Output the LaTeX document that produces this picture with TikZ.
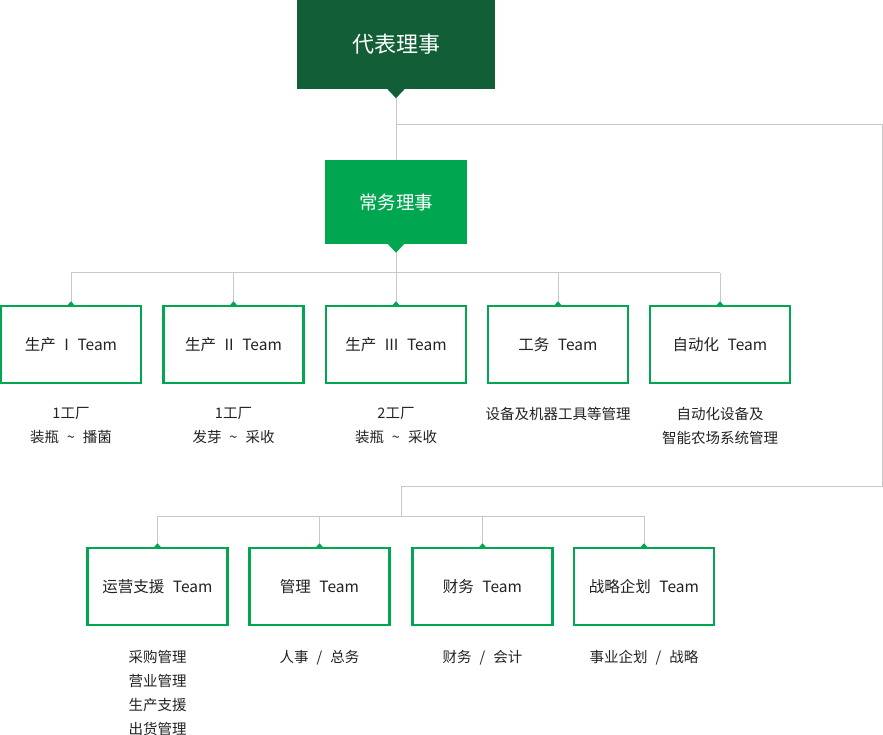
\documentclass[tikz,border=0pt]{standalone}
\usepackage{fontspec}
\setmainfont{Noto Sans CJK SC}
\definecolor{dkgreen}{HTML}{115E37}
\definecolor{mygreen}{HTML}{00A650}
\definecolor{lgray}{HTML}{C8C8C8}
\definecolor{txt}{HTML}{222222}
\newcommand{\gapsp}{\hspace{0.55em}}
\begin{document}
\begin{tikzpicture}[x=1pt,y=-1pt,
  topbox/.style={fill=dkgreen,text=white,minimum width=198pt,minimum height=89pt,inner sep=0pt,font=\fontsize{22}{26}\selectfont},
  midbox/.style={fill=mygreen,text=white,minimum width=142pt,minimum height=84pt,inner sep=0pt,font=\fontsize{18.5}{22}\selectfont},
  teambox/.style={draw=mygreen,line width=2.5pt,fill=white,text=txt,minimum width=140pt,minimum height=77pt,inner sep=0pt,font=\fontsize{15.5}{18}\selectfont},
  desc/.style={text=txt,align=center,inner sep=0pt,font=\fontsize{14.5}{24}\selectfont,anchor=north},
  conn/.style={draw=lgray,line width=1pt}]
\useasboundingbox (0,0) rectangle (883,735);
% nodes
\node[topbox] (ceo) at (396,44.5) {代表理事};
\node[midbox] (coo) at (396,202) {常务理事};
\node[teambox] (p1) at (71,344.5) {生产\gapsp I\gapsp Team};
\node[teambox] (p2) at (233.5,344.5) {生产\gapsp II\gapsp Team};
\node[teambox] (p3) at (396,344.5) {生产\gapsp III\gapsp Team};
\node[teambox] (p4) at (558,344.5) {工务\gapsp Team};
\node[teambox] (p5) at (720,344.5) {自动化\gapsp Team};
\node[teambox] (q1) at (157.5,586.5) {运营支援\gapsp Team};
\node[teambox] (q2) at (319.5,586.5) {管理\gapsp Team};
\node[teambox] (q3) at (482.5,586.5) {财务\gapsp Team};
\node[teambox] (q4) at (644,586.5) {战略企划\gapsp Team};
% descriptions
\node[desc] (d1) at (71,407) {1工厂\\装瓶\gapsp\textasciitilde\gapsp 播菌};
\node[desc] (d2) at (233.5,407) {1工厂\\发芽\gapsp\textasciitilde\gapsp 采收};
\node[desc] (d3) at (396,407) {2工厂\\装瓶\gapsp\textasciitilde\gapsp 采收};
\node[desc] (d4) at (558,407) {设备及机器工具等管理};
\node[desc] (d5) at (720,407) {自动化设备及\\智能农场系统管理};
\node[desc] (e1) at (157.5,650) {采购管理\\营业管理\\生产支援\\出货管理};
\node[desc] (e2) at (319.5,650) {人事\gapsp/\gapsp 总务};
\node[desc] (e3) at (482.5,650) {财务\gapsp/\gapsp 会计};
\node[desc] (e4) at (644,650) {事业企划\gapsp/\gapsp 战略};
% coordinates
\coordinate (bus1) at (396,273);
\coordinate (bus2) at (401,516);
\coordinate (r1) at (882,125);
\coordinate (r2) at (882,486);
\coordinate (r3) at (401,486);
% connectors
\draw[conn] (ceo.south) -- (coo.north);
\draw[conn] (ceo.south |- r1) -- (r1) -- (r2) -- (r3) -- (bus2);
\draw[conn] (coo.south) -- (bus1);
\draw[conn] (p1.north |- bus1) -- (p5.north |- bus1);
\foreach \n in {p1,p2,p3,p4,p5}{\draw[conn] (\n.north |- bus1) -- ([yshift=-1pt]\n.north);}
\draw[conn] (q1.north |- bus2) -- (q4.north |- bus2);
\foreach \n in {q1,q2,q3,q4}{\draw[conn] (\n.north |- bus2) -- ([yshift=-1pt]\n.north);}
% pointers
\fill[dkgreen] ([xshift=-8.5pt]ceo.south) -- ([xshift=8.5pt]ceo.south) -- ([yshift=-9pt]ceo.south) -- cycle;
\fill[mygreen] ([xshift=-8pt]coo.south) -- ([xshift=8pt]coo.south) -- ([yshift=-8.5pt]coo.south) -- cycle;
\foreach \n in {p1,p2,p3,p4,p5,q1,q2,q3,q4}{
  \fill[mygreen] ([xshift=-4pt,yshift=-1pt]\n.north) -- ([xshift=4pt,yshift=-1pt]\n.north) -- ([yshift=3.5pt]\n.north) -- cycle;}
\end{tikzpicture}
\end{document}
